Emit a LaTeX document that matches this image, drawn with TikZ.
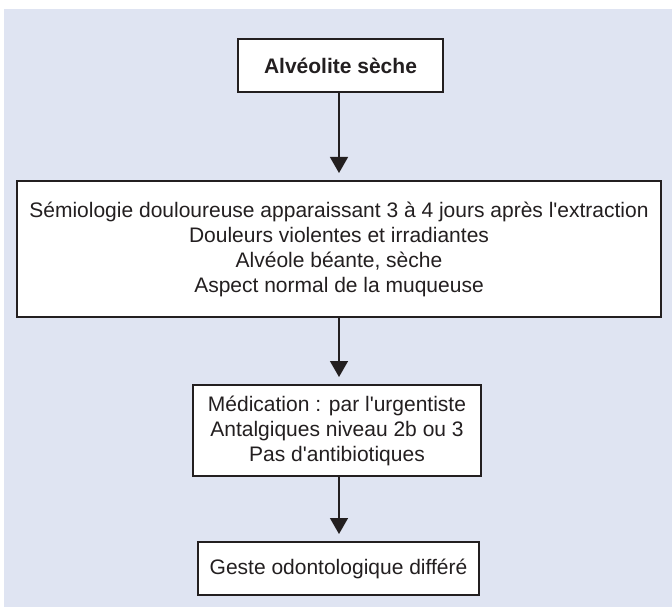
\documentclass[tikz,border=0pt]{standalone}
\usepackage{fontspec}
\setmainfont{Liberation Sans}[Ligatures=TeXOff]
\usetikzlibrary{arrows.meta}
\definecolor{bg}{HTML}{DFE4F2}
\definecolor{ink}{HTML}{231F20}
\begin{document}
\begin{tikzpicture}[x=1pt,y=-1pt,
  box/.style={draw=ink, line width=1.3pt, fill=white, text=ink, align=center,
    inner sep=0pt, font=\fontsize{21}{25}\selectfont},
  conn/.style={draw=ink, line width=1.4pt, -{Triangle[length=16pt,width=18pt]}, shorten >=8pt}]
\useasboundingbox (0,0) rectangle (672,607);
\fill[bg] (4,9) rectangle (672,607);
\node[box, minimum width=205pt, minimum height=53pt, font=\fontsize{21}{25}\selectfont\bfseries] (a) at (340.5,65.5) {Alvéolite sèche};
\node[box, minimum width=644pt, minimum height=136pt] (b) at (339,249)
  {Sémiologie douloureuse apparaissant 3 à 4 jours après l'extraction\\Douleurs violentes et irradiantes\\Alvéole béante, sèche\\Aspect normal de la muqueuse};
\node[box, minimum width=288pt, minimum height=91pt] (c) at (337,430.5)
  {Médication : par l'urgentiste\\Antalgiques niveau 2b ou 3\\Pas d'antibiotiques};
\node[box, minimum width=281pt, minimum height=53pt] (d) at (338.5,568.5) {Geste odontologique différé};
\draw[conn] (a.south -| 339,0) -- (339,181);
\draw[conn] (339,317) -- (339,385);
\draw[conn] (339,476) -- (339,542);
\end{tikzpicture}
\end{document}
